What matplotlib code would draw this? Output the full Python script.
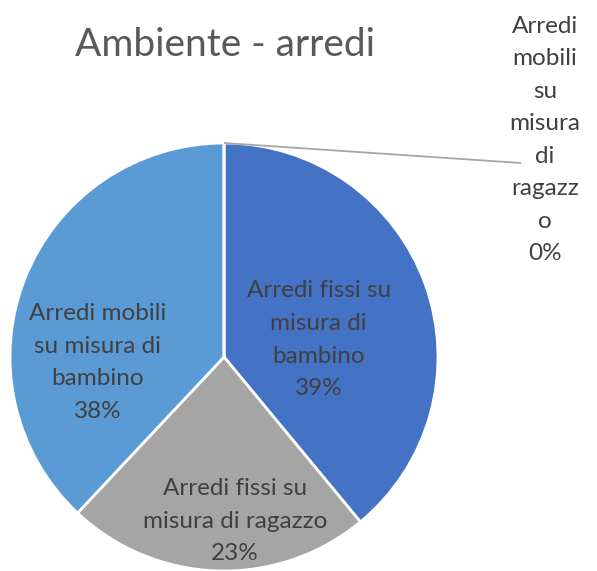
import numpy as np
import matplotlib.pyplot as plt

plt.rcParams["font.family"] = ["Lato", "DejaVu Sans"]

labels = [
    "Arredi fissi su\nmisura di\nbambino",
    "Arredi fissi su\nmisura di ragazzo",
    "Arredi mobili\nsu misura di\nbambino",
    "Arredi\nmobili\nsu\nmisura\ndi\nragazz\no",
]
shares = [39, 23, 38, 0]
colors = ["#4472C4", "#A5A5A5", "#5B9BD5", "#ED7D31"]
title = "Ambiente - arredi"

# label distance (fraction of radius) and angular nudge (deg) for each inside label
label_dist = [0.45, 0.77, 0.59]
label_nudge = [-9.5, 5.6, 24]

W, H = 597, 571
fig = plt.figure(figsize=(W / 100, H / 100), dpi=100)
ax = fig.add_axes([0, 0, 1, 1])

cx, cy, r = 224, H - 357, 214
wedges, _ = ax.pie(
    shares,
    colors=colors,
    startangle=90,
    counterclock=False,
    center=(cx, cy),
    radius=r,
    wedgeprops=dict(edgecolor="white", linewidth=2),
    frame=True,
)
ax.set_xlim(0, W)
ax.set_ylim(0, H)
ax.set_axis_off()

total = sum(shares)
for i, (w, lab, val) in enumerate(zip(wedges[:3], labels[:3], shares[:3])):
    mid = np.deg2rad((w.theta1 + w.theta2) / 2 + label_nudge[i])
    x = cx + label_dist[i] * r * np.cos(mid)
    y = cy + label_dist[i] * r * np.sin(mid)
    ax.text(x, y, f"{lab}\n{val / total:.0%}", ha="center", va="center",
            fontsize=17.5, color="#404040", linespacing=1.68)

# zero slice: label outside with leader line
top = (cx, cy + r)
ax.plot([top[0], 521], [top[1], H - 163], color="#A6A6A6", lw=1.3, solid_capstyle="butt")
ax.text(545, H - 140, f"{labels[3]}\n{shares[3] / total:.0%}", ha="center", va="center",
        fontsize=17.5, color="#404040", linespacing=1.68)

ax.text(225, H - 45, title, ha="center", va="center", fontsize=28, color="#595959")

fig.savefig("out.png", dpi=100)
